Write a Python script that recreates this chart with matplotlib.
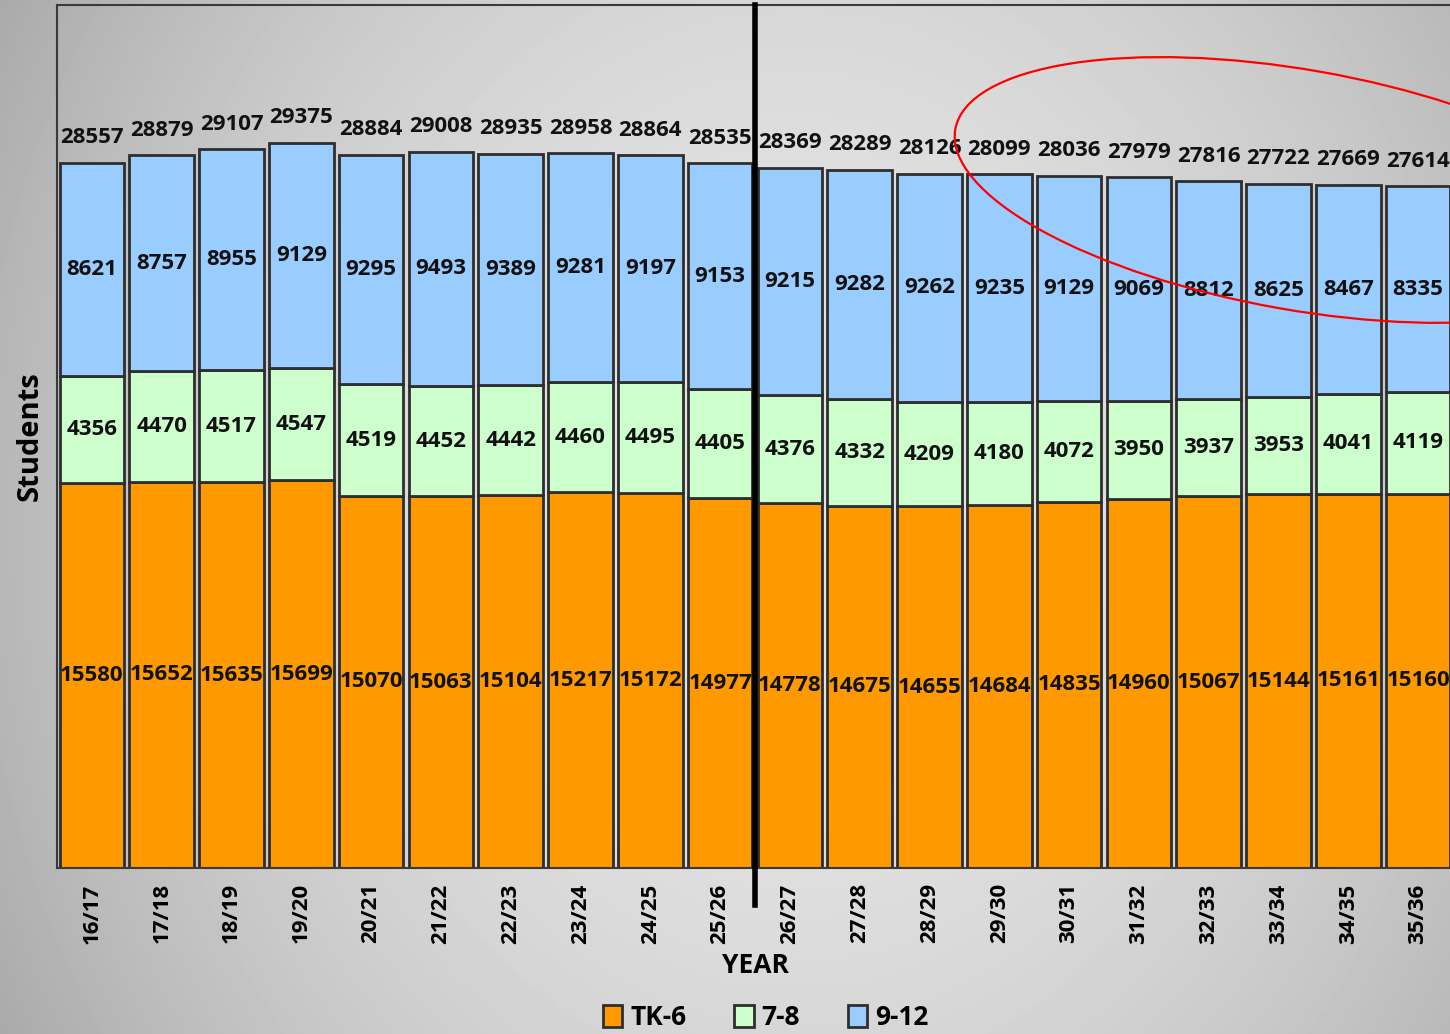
import matplotlib

matplotlib.use("Agg")
import matplotlib.pyplot as plt
import numpy as np
from matplotlib.patches import Ellipse, Patch
from matplotlib.transforms import IdentityTransform

plt.rcParams["font.family"] = ["Open Sans", "DejaVu Sans"]
plt.rcParams["font.weight"] = "bold"

# ---- enrollment by grade band -------------------------------------------
years = ["16/17", "17/18", "18/19", "19/20", "20/21", "21/22", "22/23", "23/24", "24/25", "25/26",
         "26/27", "27/28", "28/29", "29/30", "30/31", "31/32", "32/33", "33/34", "34/35", "35/36"]
tk6 = [15580, 15652, 15635, 15699, 15070, 15063, 15104, 15217, 15172, 14977,
       14778, 14675, 14655, 14684, 14835, 14960, 15067, 15144, 15161, 15160]
g78 = [4356, 4470, 4517, 4547, 4519, 4452, 4442, 4460, 4495, 4405,
       4376, 4332, 4209, 4180, 4072, 3950, 3937, 3953, 4041, 4119]
g912 = [8621, 8757, 8955, 9129, 9295, 9493, 9389, 9281, 9197, 9153,
        9215, 9282, 9262, 9235, 9129, 9069, 8812, 8625, 8467, 8335]
series_names = ["TK-6", "7-8", "9-12"]

ORANGE = "#FF9900"
GREEN = "#CCFFCC"
BLUE = "#99CCFF"
EDGE = "#2e2e2e"

fig = plt.figure(figsize=(14.5, 10.34), dpi=100)

# soft grey vignette behind everything
bg = fig.add_axes([0, 0, 1, 1], zorder=-10)
gx, gy = np.meshgrid(np.linspace(0, 1, 400), np.linspace(0, 1, 300))
r2 = ((gx - 0.55) / 0.6) ** 2 + ((gy - 0.5) / 1.0) ** 2
shade = np.clip(0.895 - 0.21 * r2, 0, 1)
bg.imshow(shade, cmap="gray", vmin=0, vmax=1, extent=[0, 1, 0, 1], origin="lower", aspect="auto")
bg.axis("off")

ax = fig.add_axes([57 / 1450, 0.1605, 1396 / 1450, 0.8346])
ax.set_facecolor("none")

x = np.arange(len(years))
tk6 = np.array(tk6)
g78 = np.array(g78)
g912 = np.array(g912)
total = tk6 + g78 + g912

w = 0.925
kw = dict(width=w, edgecolor=EDGE, linewidth=2.0, zorder=2)
b1 = ax.bar(x, tk6, color=ORANGE, **kw)
b2 = ax.bar(x, g78, bottom=tk6, color=GREEN, **kw)
b3 = ax.bar(x, g912, bottom=tk6 + g78, color=BLUE, **kw)

lab = dict(fontsize=16, fontweight="bold", color="#111111", zorder=4)
for bars in (b1, b2, b3):
    ax.bar_label(bars, label_type="center", **lab)
for xi, t in zip(x, total):
    ax.annotate(f"{t}", (xi, t), xytext=(0, 14), textcoords="offset points",
                ha="center", va="baseline", **lab)

# forecast divider
ax.axvline(9.5, ymin=-0.043, ymax=1, color="black", lw=4, clip_on=False, zorder=6)

ax.set_xlim(-0.5, 19.5)
ax.set_ylim(0, 34950)
ax.set_yticks([])
ax.set_xticks(x, years, rotation=90, fontsize=16, fontweight="bold")
ax.tick_params(axis="x", length=0, pad=11)
for s in ("left", "top", "bottom"):
    ax.spines[s].set_color("#3a3a3a")
    ax.spines[s].set_linewidth(1.5)
ax.spines["right"].set_visible(False)

ax.set_ylabel("Students", fontsize=21, fontweight="bold", labelpad=9)
ax.set_xlabel("YEAR", fontsize=19, fontweight="bold", labelpad=6)

handles = [Patch(facecolor=c, edgecolor=EDGE, linewidth=2) for c in (ORANGE, GREEN, BLUE)]
fig.legend(handles, series_names, loc="lower center", bbox_to_anchor=(0.528, -0.02),
           ncol=3, frameon=False, prop=dict(size=19, weight="bold"),
           handlelength=0.75, handleheight=0.9, handletextpad=0.3, columnspacing=1.8)

# red highlight ring around the late-year totals
fig.add_artist(Ellipse((1300, 844), 700, 240, angle=-10, fill=False,
                       edgecolor="red", lw=1.6, transform=IdentityTransform(), zorder=8))

fig.savefig("out.png", dpi=100)
